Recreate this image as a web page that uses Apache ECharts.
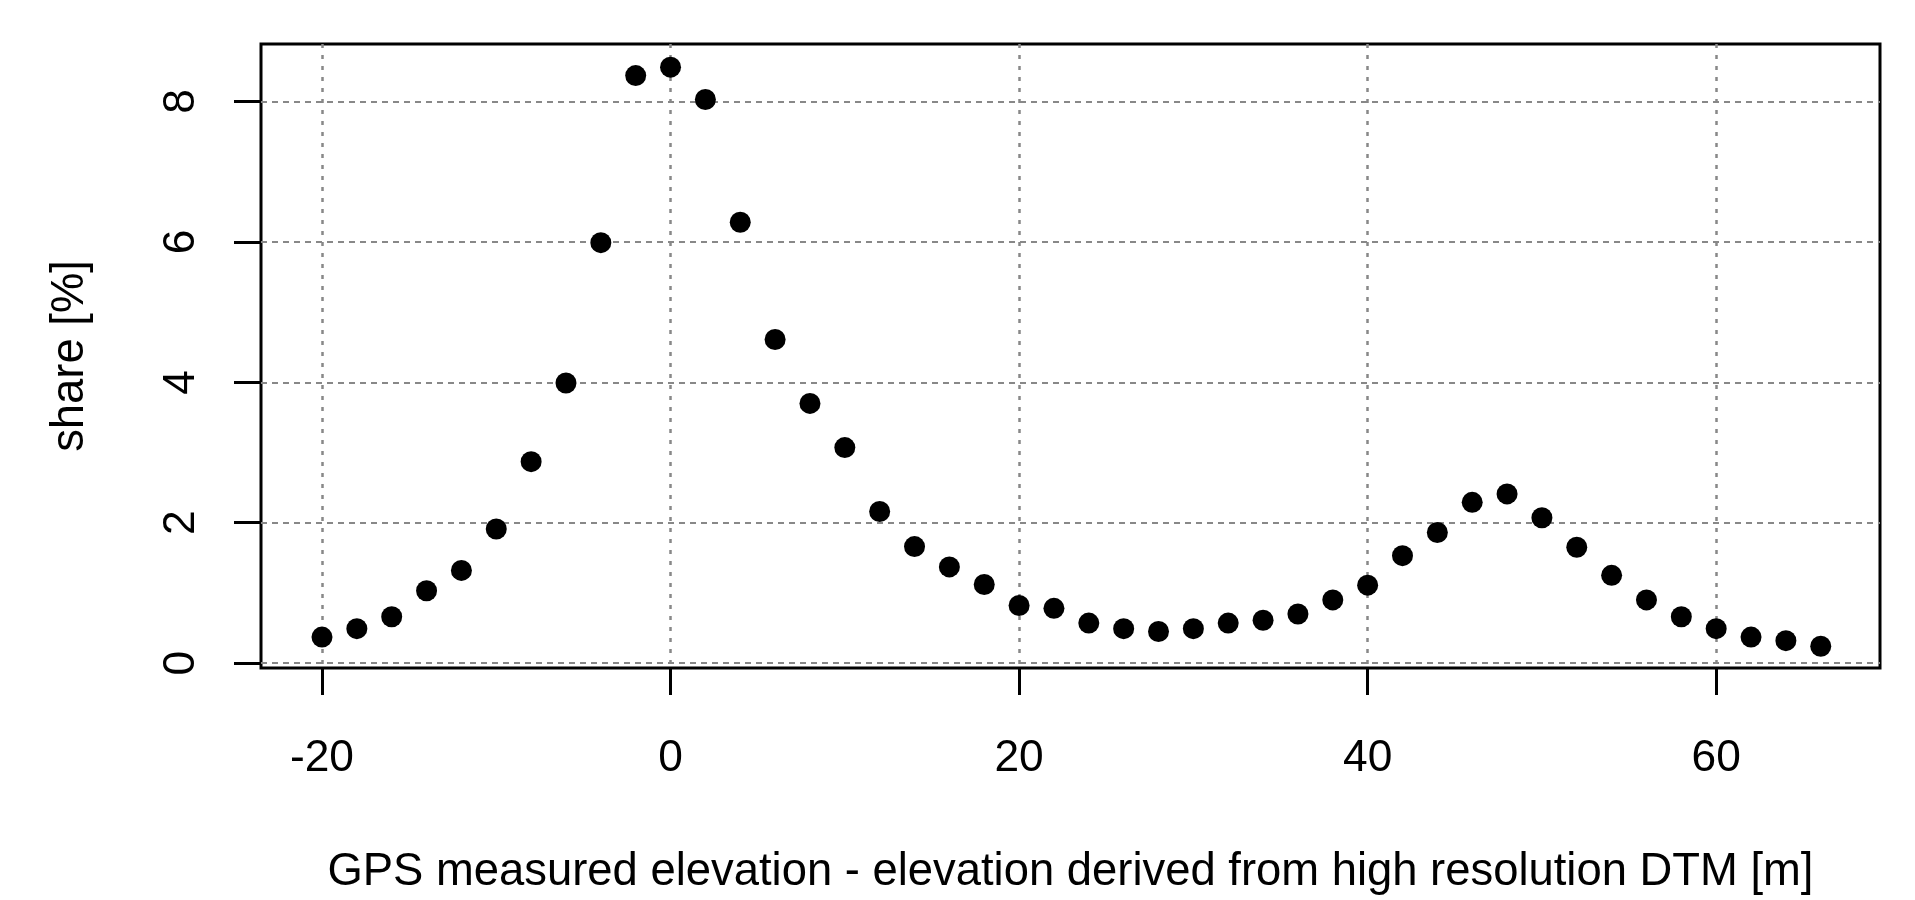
<!DOCTYPE html>
<html>
<head>
<meta charset="utf-8">
<title>GPS vs DTM elevation</title>
<script src="https://cdn.jsdelivr.net/npm/echarts@6/dist/echarts.min.js"></script>
<style>
  html, body { margin: 0; padding: 0; background: #fff; }
  #chart { width: 1915px; height: 900px; }
</style>
</head>
<body>
<div id="chart"></div>
<script>
// elevation difference classes [m]
const diffValues = [-20, -18, -16, -14, -12, -10, -8, -6, -4, -2, 0, 2, 4, 6, 8, 10, 12, 14, 16, 18, 20,
  22, 24, 26, 28, 30, 32, 34, 36, 38, 40, 42, 44, 46, 48, 50, 52, 54, 56, 58, 60, 62, 64, 66];
// share of GPS points [%]
const shareValues = [0.37, 0.49, 0.66, 1.03, 1.32, 1.91, 2.87, 3.99, 5.99, 8.37, 8.49, 8.03, 6.28, 4.61, 3.70, 3.07, 2.16, 1.66, 1.37, 1.12, 0.82,
  0.78, 0.57, 0.49, 0.45, 0.49, 0.57, 0.61, 0.70, 0.90, 1.11, 1.53, 1.86, 2.29, 2.41, 2.07, 1.65, 1.25, 0.90, 0.66, 0.49, 0.37, 0.32, 0.24];
const xTicks = [-20, 0, 20, 40, 60];
const yTicks = [0, 2, 4, 6, 8];

const font = 'Liberation Sans, Arial, Helvetica, sans-serif';
const chart = echarts.init(document.getElementById('chart'));

const points = diffValues.map(function (v, i) {
  return [v, shareValues[i]];
});

const option = {
  animation: false,
  backgroundColor: '#fff',
  textStyle: { fontFamily: font },
  grid: {
    left: 261,
    top: 44,
    width: 1619,
    height: 625,
    show: true,
    borderColor: '#000',
    borderWidth: 3,
    backgroundColor: 'transparent'
  },
  xAxis: {
    type: 'value',
    min: -23.5,
    max: 69.4,
    name: 'GPS measured elevation - elevation derived from high resolution DTM [m]',
    nameLocation: 'middle',
    nameGap: 182,
    nameTextStyle: { fontSize: 45.4, color: '#000', fontFamily: font },
    axisLine: { show: false, onZero: false },
    axisTick: {
      show: true,
      customValues: xTicks,
      length: 27,
      lineStyle: { color: '#000', width: 3 }
    },
    axisLabel: {
      customValues: xTicks,
      margin: 69,
      fontSize: 44.3,
      color: '#000',
      fontFamily: font
    },
    splitLine: {
      show: true,
      lineStyle: { color: '#888', width: 2.5, type: [4, 7] }
    }
  },
  yAxis: {
    type: 'value',
    min: -0.07,
    max: 8.82,
    name: 'share [%]',
    nameLocation: 'middle',
    nameGap: 168,
    nameTextStyle: { fontSize: 45.4, color: '#000', fontFamily: font },
    axisLine: { show: false, onZero: false },
    axisTick: {
      show: true,
      customValues: yTicks,
      length: 27,
      lineStyle: { color: '#000', width: 3 }
    },
    axisLabel: {
      customValues: yTicks,
      rotate: 90,
      margin: 57,
      fontSize: 44.3,
      color: '#000',
      fontFamily: font
    },
    splitLine: {
      show: true,
      lineStyle: { color: '#888', width: 2, type: [6, 5] }
    }
  },
  series: [{
    type: 'scatter',
    data: points,
    symbol: 'circle',
    symbolSize: 21,
    itemStyle: { color: '#000', opacity: 1 }
  }]
};
chart.setOption(option);
</script>
</body>
</html>
